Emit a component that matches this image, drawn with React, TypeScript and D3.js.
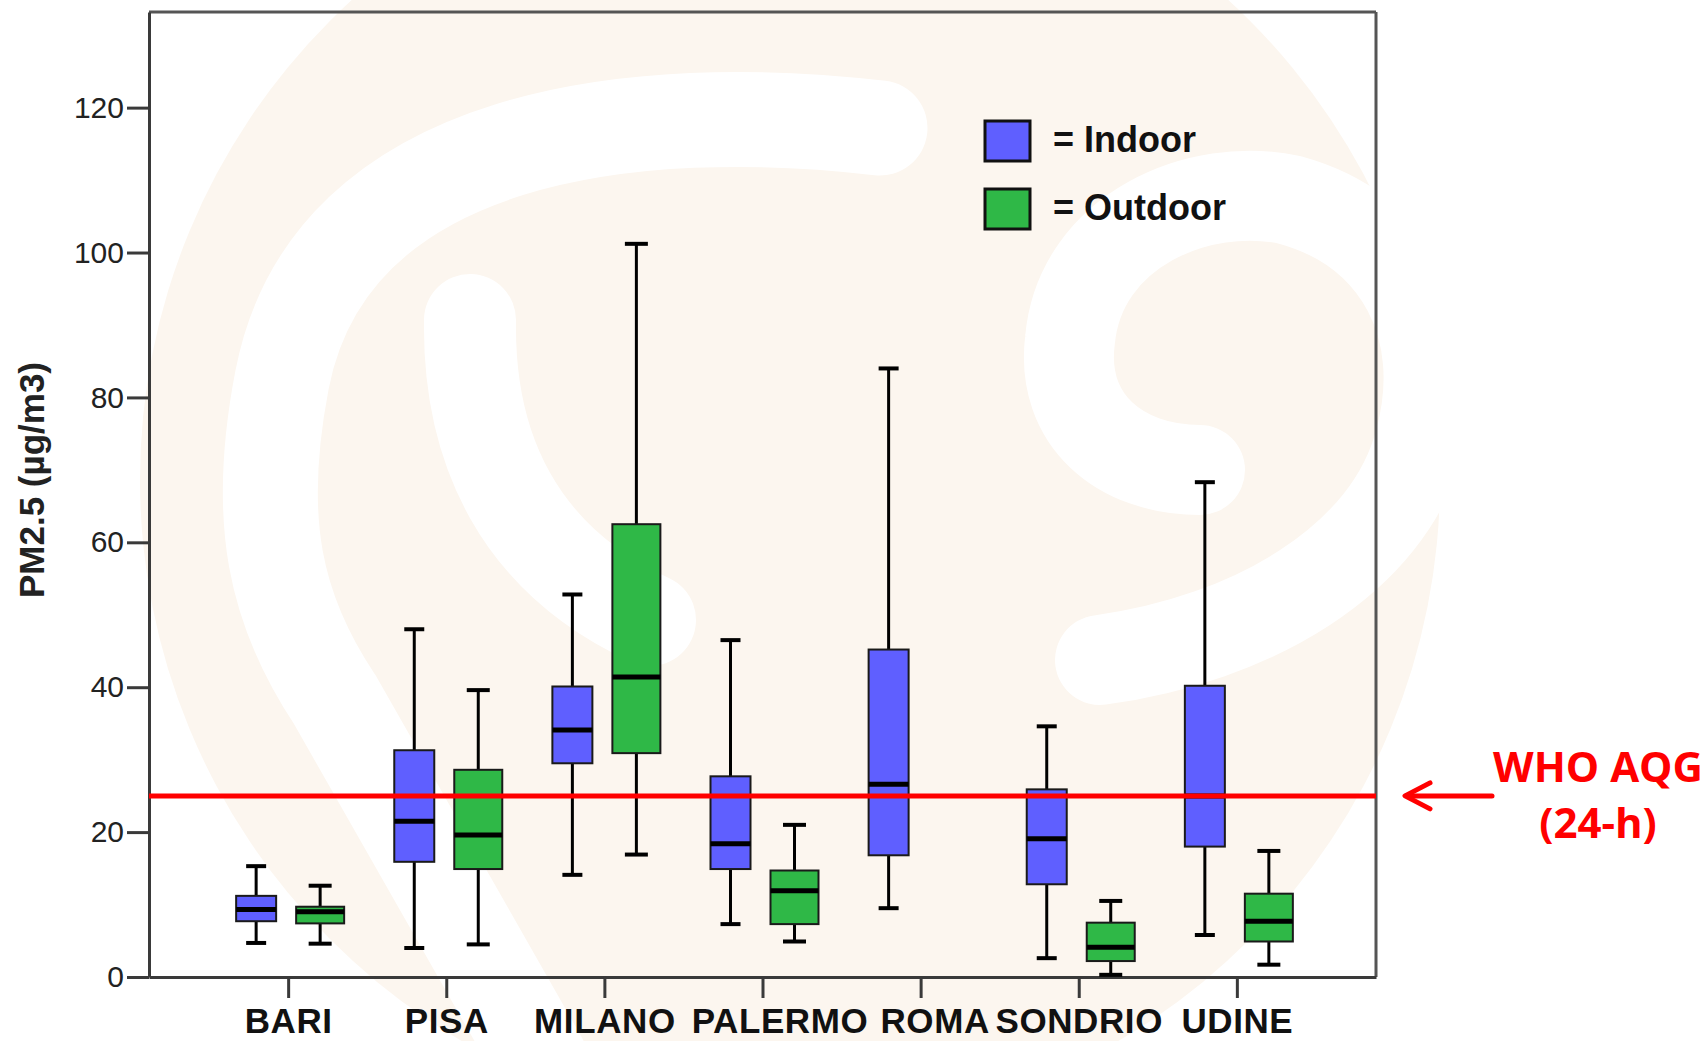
import React, { useEffect, useRef } from "react";
import * as d3 from "d3";

// cities along the x axis
const cities = ["BARI", "PISA", "MILANO", "PALERMO", "ROMA", "SONDRIO", "UDINE"];
const groups = ["Indoor", "Outdoor"];
const groupColors = ["#5f5fff", "#2fb847"];

// [min, q1, median, q3, max], null = no box drawn
const indoorStats = [
  [4.7, 7.7, 9.3, 11.2, 15.3],
  [4.0, 15.9, 21.5, 31.3, 48.0],
  [14.1, 29.5, 34.1, 40.1, 52.8],
  [7.3, 14.9, 18.4, 27.7, 46.5],
  [9.5, 16.8, 26.6, 45.2, 84.0],
  [2.6, 12.8, 19.1, 25.9, 34.6],
  [5.8, 18.0, 25.0, 40.2, 68.3],
];
const outdoorStats = [
  [4.6, 7.4, 9.0, 9.7, 12.6],
  [4.5, 14.9, 19.6, 28.6, 39.6],
  [16.9, 30.9, 41.4, 62.5, 101.2],
  [4.9, 7.3, 11.9, 14.7, 21.0],
  null,
  [0.3, 2.2, 4.1, 7.5, 10.5],
  [1.7, 4.9, 7.7, 11.5, 17.4],
];
const yTicks = [0, 20, 40, 60, 80, 100, 120];
const whoLimit = 25;

const width = 1706;
const height = 1041;
const margin = { top: 12, right: 330, bottom: 64, left: 149 };

// labels in the original are nudged right where they would crowd
const labelNudge = { PALERMO: 17, ROMA: 14 };

function Watermark() {
  const beige = "#fcf6ef";
  return (
    <g>
      <circle cx={790} cy={480} r={650} fill={beige} />
      <g fill="none" stroke="#fff" strokeLinecap="round">
        <path d="M 880,128 C 640,100 330,130 282,380 C 255,520 275,610 335,700 L 540,1060" strokeWidth={95} />
        <path d="M 470,320 C 468,450 520,560 650,620" strokeWidth={92} />
        <path d="M 1200,470 C 1120,470 1060,420 1070,340 C 1080,230 1200,180 1290,200 C 1400,230 1450,330 1420,440 C 1390,560 1250,640 1100,660" strokeWidth={90} />
      </g>
    </g>
  );
}

export default function App() {
  const xAxisRef = useRef(null);
  const yAxisRef = useRef(null);

  const left = margin.left;
  const right = width - margin.right;
  const bottom = height - margin.bottom;

  const y = d3.scaleLinear().domain([0, 133.2]).range([bottom, margin.top]);
  const x = d3.scalePoint().domain(cities).range([left, right]).padding(0.88);
  const xg = d3.scalePoint().domain(groups).range([-32, 32]);
  const boxWidth = [40, 48];
  const capWidth = [20, 23];

  useEffect(() => {
    const yAxis = d3.select(yAxisRef.current);
    yAxis.call(d3.axisLeft(y).tickValues(yTicks).tickSize(22).tickSizeOuter(0).tickPadding(3));
    yAxis.select(".domain").attr("stroke", "#3a3a3a").attr("stroke-width", 3);
    yAxis.selectAll(".tick line").attr("stroke", "#3a3a3a").attr("stroke-width", 3);
    yAxis
      .selectAll(".tick text")
      .attr("font-size", 30)
      .attr("font-family", "'Liberation Sans', Arial, sans-serif")
      .attr("fill", "#222");

    const xAxis = d3.select(xAxisRef.current);
    xAxis.call(d3.axisBottom(x).tickSize(21).tickSizeOuter(0).tickPadding(10));
    xAxis.select(".domain").attr("stroke", "#3a3a3a").attr("stroke-width", 3);
    xAxis.selectAll(".tick line").attr("stroke", "#3a3a3a").attr("stroke-width", 3);
    xAxis
      .selectAll(".tick text")
      .attr("font-size", 35)
      .attr("font-weight", "bold")
      .attr("letter-spacing", 0.6)
      .attr("dx", (d) => labelNudge[d] || 0)
      .attr("font-family", "'Liberation Sans', Arial, sans-serif")
      .attr("fill", "#111");
  }, []);

  const series = [indoorStats, outdoorStats];

  const boxes = [];
  series.forEach((stats, gi) => {
    stats.forEach((s, ci) => {
      if (!s) return;
      const cx = x(cities[ci]) + xg(groups[gi]);
      const bw = boxWidth[gi];
      const cw = capWidth[gi];
      const [mn, q1, md, q3, mx] = s;
      boxes.push(
        <g key={`${gi}-${ci}`}>
          <line x1={cx} x2={cx} y1={y(mx)} y2={y(q3)} stroke="#000" strokeWidth={3} />
          <line x1={cx} x2={cx} y1={y(q1)} y2={y(mn)} stroke="#000" strokeWidth={3} />
          <line x1={cx - cw / 2} x2={cx + cw / 2} y1={y(mx)} y2={y(mx)} stroke="#000" strokeWidth={4} />
          <line x1={cx - cw / 2} x2={cx + cw / 2} y1={y(mn)} y2={y(mn)} stroke="#000" strokeWidth={4} />
          <rect
            x={cx - bw / 2}
            y={y(q3)}
            width={bw}
            height={y(q1) - y(q3)}
            fill={groupColors[gi]}
            stroke="#1a1a1a"
            strokeWidth={2}
          />
          <line x1={cx - bw / 2} x2={cx + bw / 2} y1={y(md)} y2={y(md)} stroke="#000" strokeWidth={5} />
        </g>
      );
    });
  });

  const yWho = y(whoLimit);
  const font = "'Liberation Sans', Arial, sans-serif";
  const redFont = "'Open Sans', Carlito, Lato, sans-serif";

  return (
    <svg width={width} height={height} style={{ position: "absolute", left: 0, top: 0, background: "#fff" }}>
      <Watermark />
      {/* frame top and right */}
      <line x1={left} x2={right} y1={margin.top} y2={margin.top} stroke="#555" strokeWidth={3} />
      <line x1={right} x2={right} y1={margin.top} y2={bottom} stroke="#555" strokeWidth={3} />
      <g ref={yAxisRef} transform={`translate(${left},0)`} />
      <g ref={xAxisRef} transform={`translate(0,${bottom})`} />

      {boxes}

      <line x1={left} x2={right} y1={yWho} y2={yWho} stroke="#ff0000" strokeWidth={5} />

      {/* legend */}
      {groups.map((g, i) => (
        <g key={g} transform={`translate(985,${121 + i * 68})`}>
          <rect width={45} height={40} fill={groupColors[i]} stroke="#111" strokeWidth={3} />
          <text x={68} y={31} fontSize={36} fontWeight="bold" fontFamily={font} fill="#111">
            = {g}
          </text>
        </g>
      ))}

      {/* y title */}
      <text
        transform={`translate(44,480) rotate(-90)`}
        textAnchor="middle"
        fontSize={35}
        fontWeight="bold"
        fontFamily={font}
        fill="#222"
      >
        PM2.5 (µg/m3)
      </text>

      {/* WHO annotation */}
      <line x1={1492} x2={1408} y1={yWho} y2={yWho} stroke="#ff0000" strokeWidth={5} strokeLinecap="round" />
      <polyline
        points={`1430,${yWho - 13} 1405,${yWho} 1430,${yWho + 13}`}
        fill="none"
        stroke="#ff0000"
        strokeWidth={5}
        strokeLinecap="round"
        strokeLinejoin="round"
      />
      <text x={1598} y={782} textAnchor="middle" fontSize={42} fontWeight="bold" fontFamily={redFont} fill="#ff0000">
        WHO AQG
      </text>
      <text x={1598} y={838} textAnchor="middle" fontSize={42} fontWeight="bold" fontFamily={redFont} fill="#ff0000">
        (24-h)
      </text>
    </svg>
  );
}
